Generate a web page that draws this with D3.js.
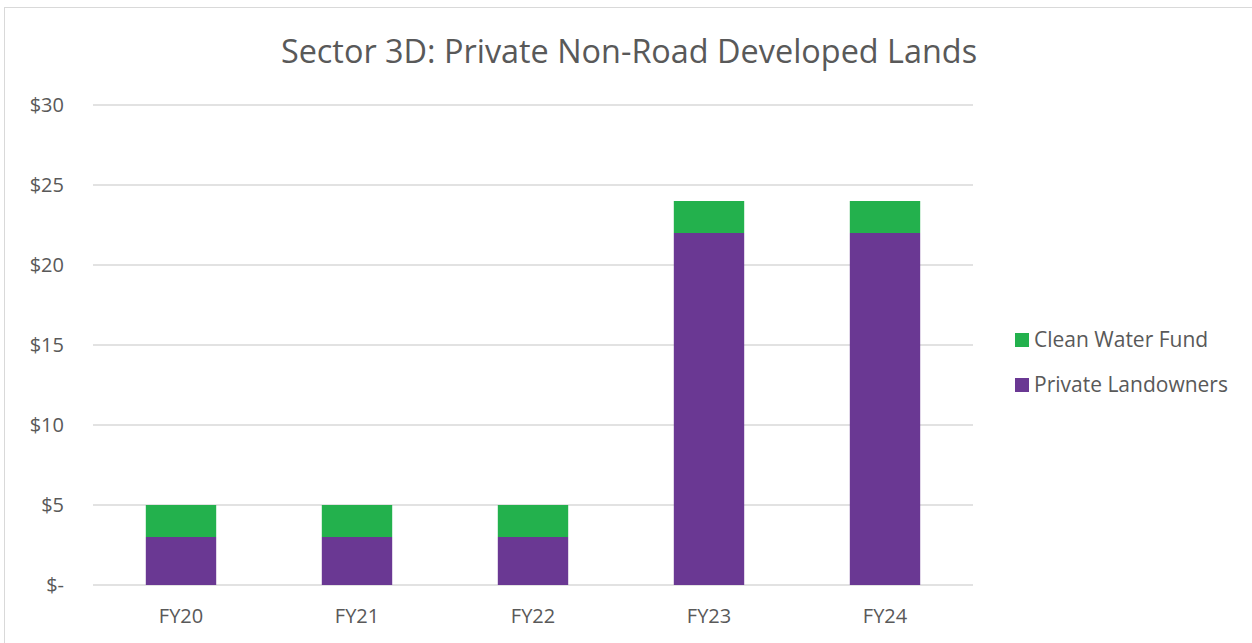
<!DOCTYPE html>
<html>
<head>
<meta charset="utf-8">
<script src="https://cdn.jsdelivr.net/npm/d3@7"></script>
<style>
  body { margin: 0; background: #fff; }
  svg { display: block; font-family: "Open Sans", "Noto Sans", sans-serif; }
</style>
</head>
<body>
<svg id="chart" width="1252" height="643"></svg>
<script>
// chart data
var years = ['FY20', 'FY21', 'FY22', 'FY23', 'FY24'];
var privateLandowners = [3, 3, 3, 22, 22];
var cleanWaterFund = [2, 2, 2, 2, 2];
var yTicks = [0, 5, 10, 15, 20, 25, 30];
var seriesNames = ['Clean Water Fund', 'Private Landowners'];
var seriesColors = ['#23b14d', '#6a3893'];

var svg = d3.select('#chart');
var margin = {left: 93, right: 279, top: 105, bottom: 58};
var W = 1252, H = 643;

// outer chart border
svg.append('rect')
  .attr('x', 4.5).attr('y', 7.5)
  .attr('width', 1260).attr('height', 660)
  .attr('fill', 'none')
  .attr('stroke', '#d9d9d9');

svg.append('text')
  .attr('x', 629).attr('y', 63)
  .attr('text-anchor', 'middle')
  .attr('font-size', 32.4)
  .attr('fill', '#595959')
  .text('Sector 3D: Private Non-Road Developed Lands');

var x = d3.scaleBand()
  .domain(years)
  .range([margin.left, W - margin.right])
  .paddingInner(0.6)
  .paddingOuter(0.3);

var y = d3.scaleLinear()
  .domain([0, 30])
  .range([H - margin.bottom, margin.top]);

// gridlines
svg.append('g')
  .selectAll('line')
  .data(yTicks)
  .join('line')
  .attr('x1', margin.left).attr('x2', W - margin.right)
  .attr('y1', d => y(d)).attr('y2', d => y(d))
  .attr('stroke', '#d9d9d9')
  .attr('stroke-width', 1.5);

var yAxis = svg.append('g')
  .attr('transform', 'translate(64,0)')
  .call(d3.axisLeft(y).tickValues(yTicks).tickSize(0).tickPadding(0)
    .tickFormat(d => d === 0 ? '$-' : '$' + d));
yAxis.select('.domain').remove();
yAxis.selectAll('text')
  .attr('font-size', 20)
  .attr('fill', '#595959')
  .attr('font-family', '"Open Sans", sans-serif');

var xAxis = svg.append('g')
  .attr('transform', 'translate(0,' + (H - margin.bottom) + ')')
  .call(d3.axisBottom(x).tickSize(0).tickPadding(24));
xAxis.select('.domain').remove();
xAxis.selectAll('text')
  .attr('font-size', 20)
  .attr('fill', '#595959')
  .attr('font-family', '"Open Sans", sans-serif');

// stacked bars
var rows = years.map((yr, i) => ({year: yr, priv: privateLandowners[i], clean: cleanWaterFund[i]}));
var stack = d3.stack().keys(['priv', 'clean'])(rows);
var colorFor = {priv: seriesColors[1], clean: seriesColors[0]};

svg.append('g')
  .selectAll('g')
  .data(stack)
  .join('g')
  .attr('fill', d => colorFor[d.key])
  .selectAll('rect')
  .data(d => d)
  .join('rect')
  .attr('x', d => x(d.data.year))
  .attr('y', d => y(d[1]))
  .attr('width', x.bandwidth())
  .attr('height', d => y(d[0]) - y(d[1]));

// legend
var legend = svg.append('g').attr('transform', 'translate(1015,333)');
seriesNames.forEach(function (name, i) {
  var g = legend.append('g').attr('transform', 'translate(0,' + (i * 45) + ')');
  g.append('rect').attr('width', 14).attr('height', 14).attr('fill', seriesColors[i]);
  g.append('text')
    .attr('x', 19).attr('y', 14)
    .attr('font-size', 21)
    .attr('fill', '#595959')
    .text(name);
});
</script>
</body>
</html>
